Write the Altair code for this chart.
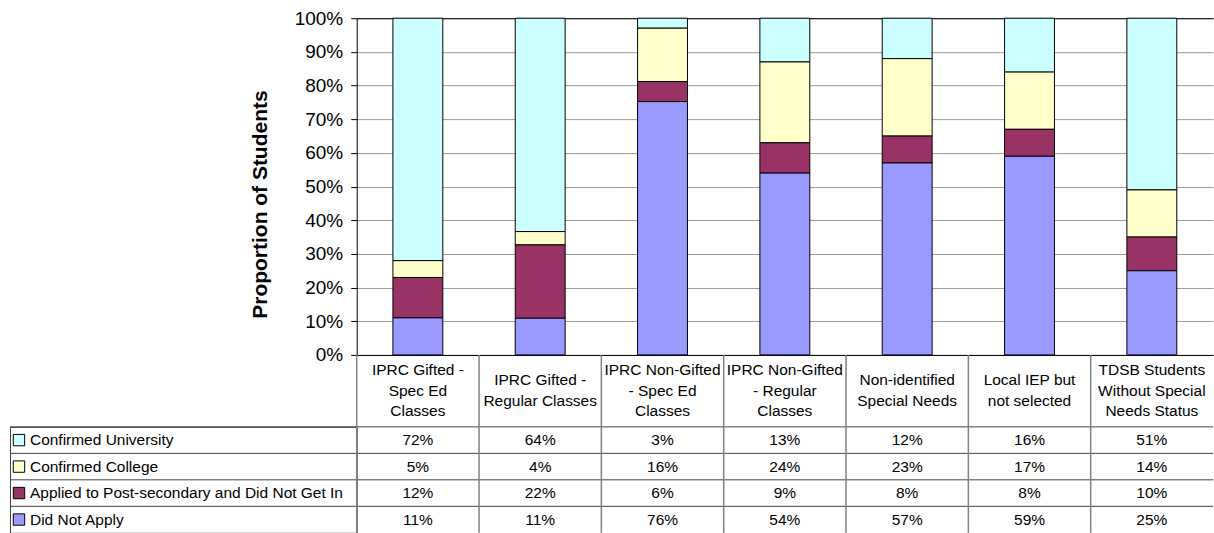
import altair as alt
import pandas as pd

# Categories (column headers of the data table, with their line breaks)
categories = [
    "IPRC Gifted -\nSpec Ed\nClasses",
    "IPRC Gifted -\nRegular Classes",
    "IPRC Non-Gifted\n- Spec Ed\nClasses",
    "IPRC Non-Gifted\n- Regular\nClasses",
    "Non-identified\nSpecial Needs",
    "Local IEP but\nnot selected",
    "TDSB Students\nWithout Special\nNeeds Status",
]

# Series, listed top to bottom as in the data table
series = [
    "Confirmed University",
    "Confirmed College",
    "Applied to Post-secondary and Did Not Get In",
    "Did Not Apply",
]
series_colors = ["#CCFFFF", "#FFFFCC", "#993366", "#9999FF"]

# Percentages per category
confirmed_university = [72, 64, 3, 13, 12, 16, 51]
confirmed_college = [5, 4, 16, 24, 23, 17, 14]
applied_not_in = [12, 22, 6, 9, 8, 8, 10]
did_not_apply = [11, 11, 76, 54, 57, 59, 25]

y_ticks = [0, 0.1, 0.2, 0.3, 0.4, 0.5, 0.6, 0.7, 0.8, 0.9, 1.0]

all_values = [confirmed_university, confirmed_college, applied_not_in, did_not_apply]
records = []
for i, (name, vals) in enumerate(zip(series, all_values)):
    for cat, v in zip(categories, vals):
        records.append({
            "category": cat,
            "series": name,
            "value": v,
            "label": f"{v}%",
            "stack": len(series) - 1 - i,  # Did Not Apply at the bottom
        })
df = pd.DataFrame(records)
cat_df = pd.DataFrame({
    "category": categories,
    "nlines": [c.count("\n") + 1 for c in categories],
})
series_df = pd.DataFrame({"series": series})

FONT = "Liberation Sans"
W_LEFT = 347
W_PLOT = 857
H_PLOT = 337
H_HEAD = 71.5
H_ROWS = 106
LINE_H = 20.5

x_band = alt.Scale(type="band", domain=categories, paddingInner=0, paddingOuter=0)
y_rows = alt.Scale(type="band", domain=series, paddingInner=0, paddingOuter=0)
color_scale = alt.Scale(domain=series, range=series_colors)

# --- stacked 100% bars -------------------------------------------------------
bars = alt.Chart(df).mark_bar(
    width=alt.RelativeBandSize(0.408), stroke="black", strokeWidth=1
).encode(
    x=alt.X(
        "category:N", scale=x_band,
        axis=alt.Axis(labels=False, ticks=False, title=None, grid=False,
                      domainColor="black", domainWidth=1),
    ),
    y=alt.Y(
        "value:Q", stack="normalize", scale=alt.Scale(domain=[0, 1]),
        axis=alt.Axis(
            format=".0%", values=y_ticks, tickCount=11, labelOverlap=False,
            grid=True, gridColor="#9a9a9a", gridWidth=1, gridOpacity=1,
            domainColor="black", tickColor="black", tickSize=6,
            labelFont=FONT, labelFontSize=19, labelColor="black", labelPadding=8,
            title="Proportion of Students", titleFont=FONT, titleFontSize=21,
            titleFontWeight="bold", titleColor="black", titleX=-96, titleY=186,
            titleBaseline="middle", titleAngle=270,
        ),
    ),
    color=alt.Color("series:N", scale=color_scale, legend=None),
    order=alt.Order("stack:Q"),
)
# invisible layer carrying a top x-axis whose domain line closes the plot area
top_edge = alt.Chart(cat_df).mark_point(opacity=0, size=1).encode(
    x=alt.X(
        "category:N", scale=x_band,
        axis=alt.Axis(orient="top", labels=False, ticks=False, title=None,
                      grid=False, domainColor="black", domainWidth=1),
    )
)
plot = alt.layer(bars, top_edge).resolve_axis(x="independent").properties(
    width=W_PLOT, height=H_PLOT
)

# --- data table: header row ---------------------------------------------------
def header_layer(n):
    return alt.Chart(cat_df).transform_filter(
        alt.datum.nlines == n
    ).mark_text(
        font=FONT, fontSize=15.5, lineBreak="\n", lineHeight=LINE_H,
        baseline="middle", align="center", color="black",
        dy=-(n - 1) * LINE_H / 2,
    ).encode(
        x=alt.X("category:N", scale=x_band, axis=None, bandPosition=0.5),
        text="category:N",
    )

header_lines = alt.Chart(cat_df).mark_rule(color="#808080", strokeWidth=1.5).encode(
    x=alt.X("category:N", scale=x_band, axis=None, bandPosition=0)
)
header = alt.layer(header_layer(2), header_layer(3), header_lines).properties(
    width=W_PLOT, height=H_HEAD
)

# --- data table: row labels with colour keys -------------------------------------
swatch = alt.Chart(series_df).mark_square(
    size=130, filled=True, opacity=1, stroke="black", strokeWidth=1
).encode(
    x=alt.value(9),
    y=alt.Y("series:N", scale=y_rows, axis=None, bandPosition=0.5),
    color=alt.Color("series:N", scale=color_scale, legend=None),
)
row_names = alt.Chart(series_df).mark_text(
    font=FONT, fontSize=15.5, align="left", baseline="middle", color="black"
).encode(
    x=alt.value(20),
    y=alt.Y("series:N", scale=y_rows, axis=None, bandPosition=0.5),
    text="series:N",
)
label_lines = alt.Chart(series_df).mark_rule(color="#404040", strokeWidth=1).encode(
    y=alt.Y("series:N", scale=y_rows, axis=None, bandPosition=0)
)
row_labels = alt.layer(label_lines, swatch, row_names).properties(
    width=W_LEFT, height=H_ROWS,
    view=alt.ViewBackground(stroke="#404040", strokeWidth=1),
)

# --- data table: values ---------------------------------------------------------
cells = alt.Chart(df).mark_text(
    font=FONT, fontSize=15.5, align="center", baseline="middle", color="black"
).encode(
    x=alt.X("category:N", scale=x_band, axis=None, bandPosition=0.5),
    y=alt.Y("series:N", scale=y_rows, axis=None, bandPosition=0.5),
    text="label:N",
)
cell_rows = alt.Chart(series_df).mark_rule(color="#404040", strokeWidth=1).encode(
    y=alt.Y("series:N", scale=y_rows, axis=None, bandPosition=0)
)
cell_cols = alt.Chart(cat_df).mark_rule(color="#808080", strokeWidth=1.5).encode(
    x=alt.X("category:N", scale=x_band, axis=None, bandPosition=0)
)
table = alt.layer(cell_rows, cell_cols, cells).properties(width=W_PLOT, height=H_ROWS)

# --- empty cells of the left column ------------------------------------------------
blank_top = alt.Chart(cat_df).mark_point(opacity=0, size=1).properties(
    width=W_LEFT, height=H_PLOT
)
blank_head = alt.Chart(cat_df).mark_point(opacity=0, size=1).properties(
    width=W_LEFT, height=H_HEAD
)

chart = alt.concat(
    blank_top, plot,
    blank_head, header,
    row_labels, table,
    columns=2, spacing=0, bounds="flush", align="each",
).configure(
    padding={"left": 9, "top": 8, "right": 0, "bottom": 0},
    background="white",
).configure_view(stroke="transparent")

chart.save("out.html", embed_options={"renderer": "svg", "actions": False})
